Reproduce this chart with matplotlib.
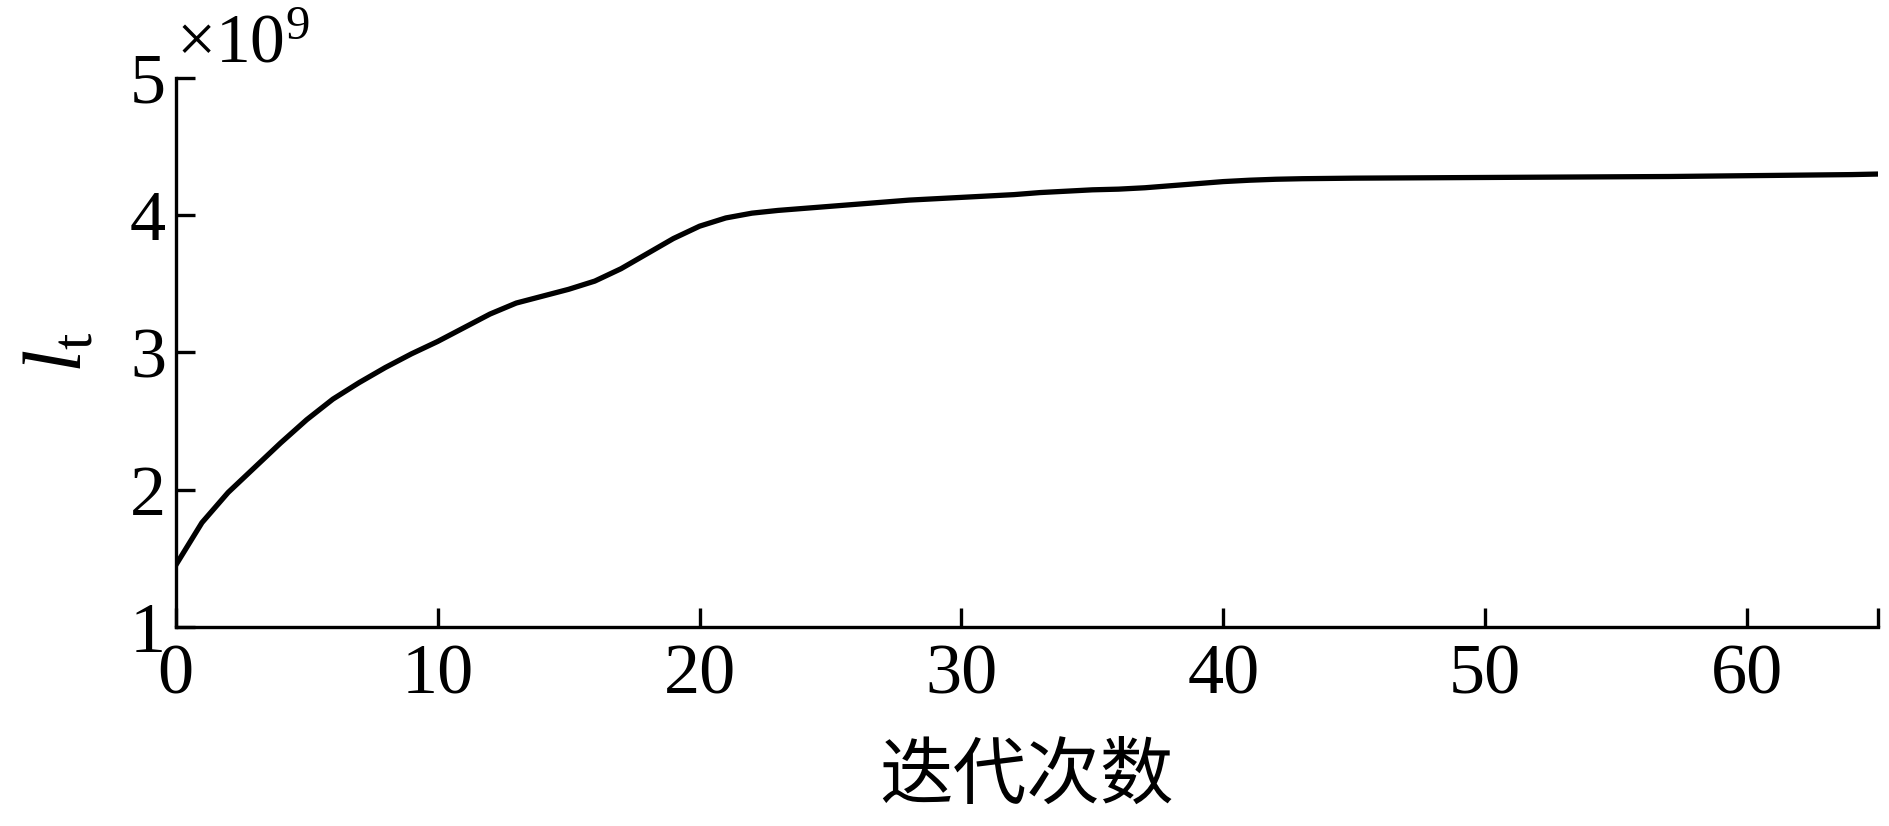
import matplotlib
matplotlib.use("Agg")
import matplotlib.pyplot as plt

# Data (l_t in units of 1e9 per iteration)
iters = list(range(0, 66))
lt = [1.45, 1.76, 1.98, 2.16, 2.34, 2.51, 2.66, 2.78, 2.89, 2.99,
      3.08, 3.18, 3.28, 3.36, 3.41, 3.46, 3.52, 3.61, 3.72, 3.83,
      3.92, 3.98, 4.015, 4.035, 4.05, 4.065, 4.08, 4.095, 4.11, 4.12,
      4.13, 4.14, 4.15, 4.165, 4.175, 4.185, 4.19, 4.20, 4.215, 4.23,
      4.245, 4.255, 4.262, 4.266, 4.268, 4.27, 4.271, 4.272, 4.273, 4.274,
      4.275, 4.276, 4.277, 4.278, 4.279, 4.28, 4.281, 4.282, 4.284, 4.286,
      4.288, 4.29, 4.292, 4.294, 4.296, 4.30]
xticks = [0, 10, 20, 30, 40, 50, 60, 65]
xticklabels = ["0", "10", "20", "30", "40", "50", "60", ""]
yticks = [1, 2, 3, 4, 5]

plt.rcParams['font.family'] = ['Liberation Serif', 'Noto Sans CJK SC']
plt.rcParams['mathtext.fontset'] = 'custom'
plt.rcParams['mathtext.rm'] = 'Liberation Serif'
plt.rcParams['mathtext.it'] = 'Liberation Serif:italic'

fig = plt.figure(figsize=(18.9, 8.26), dpi=100)
ax = fig.add_axes([0.093, 0.241, 0.9007, 0.6646])

ax.plot(iters, lt, color='black', lw=3.8)

ax.set_xlim(0, 65)
ax.set_ylim(1, 5)
ax.set_xticks(xticks)
ax.set_xticklabels(xticklabels)
ax.set_yticks(yticks)

for s in ['top', 'right']:
    ax.spines[s].set_visible(False)
for s in ['left', 'bottom']:
    ax.spines[s].set_linewidth(2.4)

ax.tick_params(axis='both', direction='in', length=14, width=2.4, labelsize=52)
ax.tick_params(axis='x', pad=12)
ax.tick_params(axis='y', pad=7)

ax.text(0.0, 1.0, r'$\times10^{9}$', transform=ax.transAxes, fontsize=50,
        ha='left', va='bottom')

ax.set_xlabel('迭代次数', fontsize=53, family=['Noto Sans CJK SC'], labelpad=22)
ax.set_ylabel(r'$l_{\mathrm{t}}$', fontsize=60, labelpad=22)

fig.savefig('out.png', dpi=100)
